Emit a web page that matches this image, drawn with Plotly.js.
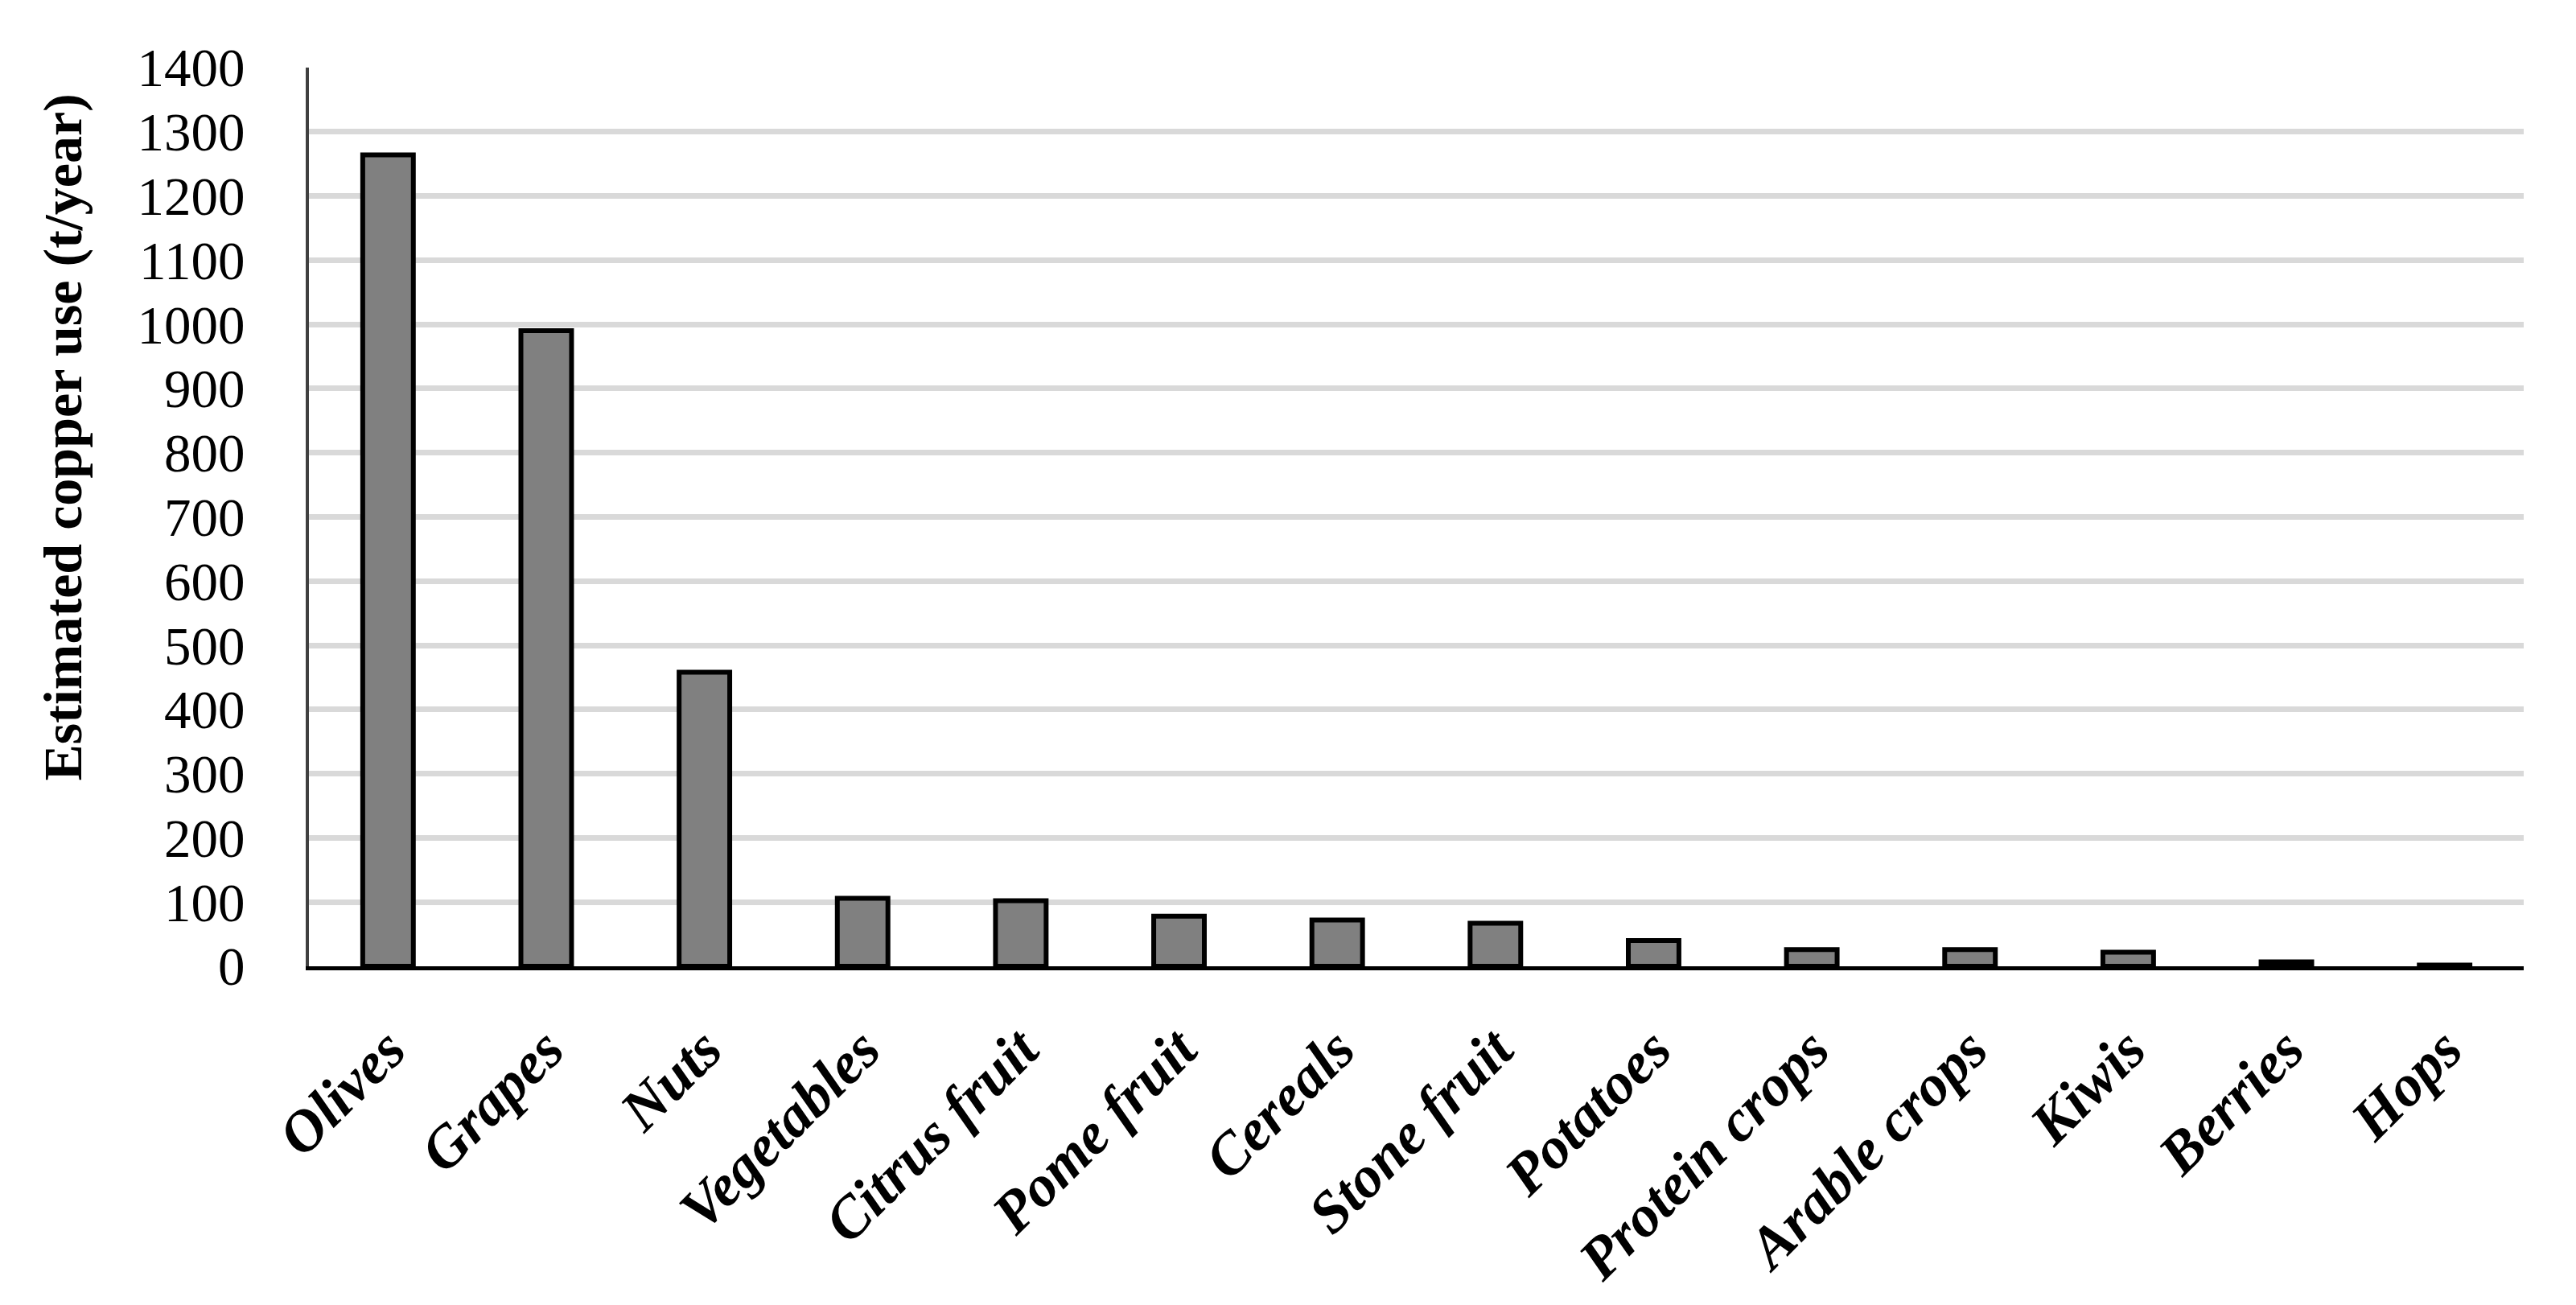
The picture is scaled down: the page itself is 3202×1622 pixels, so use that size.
<!DOCTYPE html>
<html>
<head>
<meta charset="utf-8">
<script src="https://cdn.plot.ly/plotly-3.0.1.min.js"></script>
<style>
  body { margin: 0; background: #fff; }
  #plot { width: 3202px; height: 1622px; }
</style>
</head>
<body>
<div id="plot"></div>
<script>
// crops, in the order they appear on the x axis
let crops = ["Olives", "Grapes", "Nuts", "Vegetables", "Citrus fruit", "Pome fruit", "Cereals",
             "Stone fruit", "Potatoes", "Protein crops", "Arable crops", "Kiwis", "Berries", "Hops"];

// estimated copper use, t/year
let copperUse = [1264, 990, 458, 106, 102, 78, 72, 67, 40, 26, 26, 22, 7, 2];

// y axis ticks
let yTicks = [0, 100, 200, 300, 400, 500, 600, 700, 800, 900, 1000, 1100, 1200, 1300, 1400];

let yTitle = "Estimated copper use (t/year)";

let serif = "'Liberation Serif', 'Times New Roman', serif";

let copperTrace = {
    x: crops,
    y: copperUse,
    type: "bar",
    marker: {
        color: "#808080",
        line: { color: "#000000", width: 6 }
    },
    hoverinfo: "x+y"
}

let layout = {
    width: 3202,
    height: 1622,
    paper_bgcolor: "#ffffff",
    plot_bgcolor: "#ffffff",
    showlegend: false,
    bargap: 0.68,
    margin: { l: 384, r: 65, t: 84, b: 421, pad: 0 },
    font: { family: serif, color: "#000000" },
    xaxis: {
        tickangle: -45,
        tickfont: { family: serif, size: 73, color: "#000000", weight: "bold", style: "italic" },
        showline: true,
        linecolor: "#000000",
        linewidth: 5,
        ticks: "",
        ticklabelstandoff: 26,
        showgrid: false,
        automargin: false
    },
    yaxis: {
        range: [0, 1400],
        tickvals: yTicks,
        tickfont: { family: serif, size: 67, color: "#000000" },
        showline: true,
        linecolor: "#404040",
        linewidth: 4,
        ticks: "",
        ticklabelstandoff: 62,
        showgrid: true,
        gridcolor: "#d9d9d9",
        gridwidth: 7,
        zeroline: false,
        automargin: false
    },
    // the y title sits above the middle of the axis in the original, so it is an annotation
    annotations: [{
        text: yTitle,
        textangle: -90,
        xref: "paper",
        yref: "paper",
        x: -0.111,
        y: 0.589,
        xanchor: "center",
        yanchor: "middle",
        showarrow: false,
        font: { family: serif, size: 68, color: "#000000", weight: "bold" }
    }]
}

Plotly.newPlot("plot", [copperTrace], layout, { displayModeBar: false, staticPlot: true });
</script>
</body>
</html>
